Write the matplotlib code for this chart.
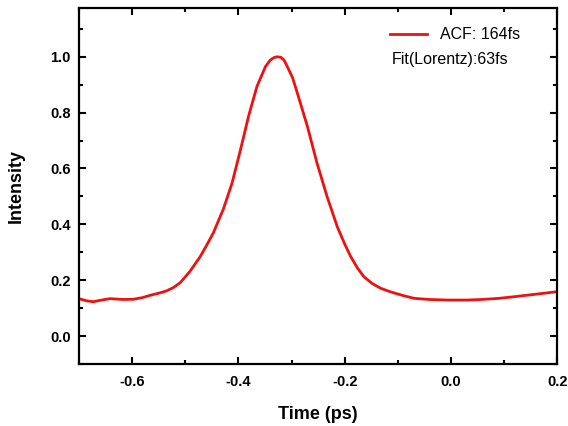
import matplotlib
matplotlib.use("Agg")
import matplotlib.pyplot as plt
from matplotlib.ticker import MultipleLocator

plt.rcParams['font.family'] = ['Liberation Sans', 'DejaVu Sans']

time_ps = [-0.700, -0.685, -0.673, -0.660, -0.642, -0.616, -0.597, -0.580, -0.566, -0.547,
           -0.535, -0.522, -0.509, -0.491, -0.472, -0.460, -0.447, -0.428, -0.412, -0.396,
           -0.381, -0.365, -0.349, -0.340, -0.333, -0.327, -0.320, -0.314, -0.308, -0.298,
           -0.289, -0.270, -0.252, -0.233, -0.214, -0.200, -0.189, -0.176, -0.164, -0.148,
           -0.132, -0.113, -0.090, -0.069, -0.040, -0.006, 0.030, 0.057, 0.090, 0.119,
           0.160, 0.200]
intensity = [0.134, 0.126, 0.123, 0.128, 0.134, 0.131, 0.132, 0.138, 0.146, 0.155,
             0.162, 0.174, 0.192, 0.232, 0.284, 0.324, 0.370, 0.456, 0.547, 0.667,
             0.786, 0.894, 0.965, 0.988, 0.997, 1.000, 0.998, 0.988, 0.965, 0.925,
             0.870, 0.750, 0.619, 0.499, 0.392, 0.330, 0.286, 0.244, 0.213, 0.188,
             0.171, 0.158, 0.145, 0.135, 0.131, 0.129, 0.129, 0.131, 0.135, 0.141,
             0.150, 0.159]

legend_label = "ACF: 164fs"
fit_label = "Fit(Lorentz):63fs"

fig = plt.figure(figsize=(5.68, 4.26), dpi=100)
ax = fig.add_axes([0.139, 0.1455, 0.842, 0.836])

ax.plot(time_ps, intensity, color='#ee1111', lw=2.0, label=legend_label,
        solid_joinstyle='round')

ax.set_xlim(-0.7, 0.2)
ax.set_ylim(-0.1, 1.175)
ax.xaxis.set_minor_locator(MultipleLocator(0.1))
ax.yaxis.set_minor_locator(MultipleLocator(0.1))
ax.set_xticks([-0.6, -0.4, -0.2, 0.0, 0.2])
ax.set_xticklabels(['-0.6', '-0.4', '-0.2', '0.0', '0.2'])
ax.set_yticks([0.0, 0.2, 0.4, 0.6, 0.8, 1.0])
ax.set_yticklabels(['0.0', '0.2', '0.4', '0.6', '0.8', '1.0'])

ax.tick_params(which='both', direction='in', top=True, right=True, width=1.5)
ax.tick_params(which='major', length=5, labelsize=10.5)
ax.tick_params(axis='x', which='major', pad=8)
ax.tick_params(axis='y', which='major', pad=6)
ax.tick_params(which='minor', length=3)
for lab in ax.get_xticklabels() + ax.get_yticklabels():
    lab.set_fontweight('bold')
for s in ax.spines.values():
    s.set_linewidth(1.6)

ax.set_xlabel('Time (ps)', fontsize=13, fontweight='bold', labelpad=12)
ax.set_ylabel('Intensity', fontsize=13, fontweight='bold', labelpad=18)

ax.legend(frameon=False, loc='upper left', bbox_to_anchor=(0.651, 0.945),
          borderaxespad=0, borderpad=0, handlelength=2.3, handletextpad=0.8,
          fontsize=11.5)
ax.text(0.653, 0.854, fit_label, transform=ax.transAxes, fontsize=11.5,
        va='center', ha='left')

fig.savefig('out.png', dpi=100)
